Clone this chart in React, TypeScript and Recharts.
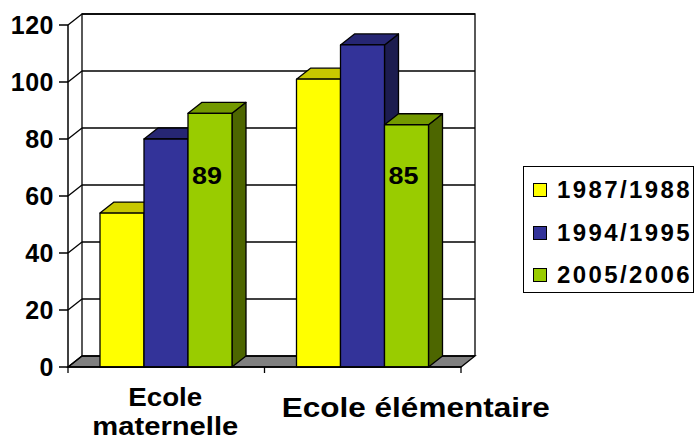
import React from "react"
import { BarChart, Bar, XAxis, YAxis, CartesianGrid, LabelList, Legend } from "recharts"

// depth of the fake 3D extrusion
const DX = 14
const DY = 11
const FONT = '"Liberation Sans", Arial, sans-serif'

const categories = ["Ecole maternelle", "Ecole élémentaire"]
const categoryLines = [["Ecole", "maternelle"], ["Ecole élémentaire"]]
const seriesNames = ["1987/1988", "1994/1995", "2005/2006"]
const values1987 = [54, 101]
const values1994 = [80, 113]
const values2005 = [89, 85]
const yTicks = [0, 20, 40, 60, 80, 100, 120]

const palette = [
  { front: "#ffff00", top: "#c8c800", side: "#8c8c00" },
  { front: "#333399", top: "#262673", side: "#1c1c4f" },
  { front: "#99cc00", top: "#739900", side: "#4d6600" },
]

const data = categories.map((name, i) => ({
  name,
  s0: values1987[i],
  s1: values1994[i],
  s2: values2005[i],
}))

const Bar3D = (props: any) => {
  const { x, y, width: w, height: h, colors } = props
  if (h == null || w == null) return null
  return (
    <g stroke="#000" strokeWidth={1.3} strokeLinejoin="round">
      <polygon
        points={`${x + w},${y} ${x + w + DX},${y - DY} ${x + w + DX},${y + h - DY} ${x + w},${y + h}`}
        fill={colors.side}
      />
      <polygon
        points={`${x},${y} ${x + DX},${y - DY} ${x + w + DX},${y - DY} ${x + w},${y}`}
        fill={colors.top}
      />
      <rect x={x} y={y} width={w} height={h} fill={colors.front} />
    </g>
  )
}

// back wall, floor and the slanted gridlines are hung off the horizontal grid
const gridLine = (p: any) => {
  const { x1, y1, x2, index, x, y, width, height } = p
  const bottom = y + height
  return (
    <g key={`grid-${index}`} stroke="#000" strokeWidth={1.3}>
      {index === 0 && (
        <>
          <polygon
            points={`${x},${bottom} ${x + DX},${bottom - DY} ${x + width + DX},${bottom - DY} ${x + width},${bottom}`}
            fill="#808080"
          />
          <polyline
            points={`${x + DX},${bottom - DY} ${x + DX},${y - DY} ${x + width + DX},${y - DY} ${x + width + DX},${bottom - DY}`}
            fill="none"
          />
          {[0, 0.5, 1].map((f) => (
            <line key={f} x1={x + width * f} y1={bottom} x2={x + width * f} y2={bottom + 6} />
          ))}
        </>
      )}
      <line x1={x1 + DX} y1={y1 - DY} x2={x2 + DX} y2={y1 - DY} />
      <line x1={x1} y1={y1} x2={x1 + DX} y2={y1 - DY} />
    </g>
  )
}

const YTick = (props: any) => {
  const { x, y, payload } = props
  return (
    <text x={x} y={y} dy="0.355em" textAnchor="end" fontFamily={FONT} fontWeight="bold" fontSize={25} letterSpacing={0.5} fill="#000">
      {payload.value}
    </text>
  )
}

const XTick = (props: any) => {
  const { x, y, index } = props
  const lines = categoryLines[index] || []
  if (lines.length > 1) {
    return (
      <g fontFamily={FONT} fontWeight="bold" fontSize={25} fill="#000" textAnchor="middle">
        <text x={x - 1} y={y + 39} textLength={74} lengthAdjust="spacingAndGlyphs">{lines[0]}</text>
        <text x={x - 1} y={y + 68} textLength={146} lengthAdjust="spacingAndGlyphs">{lines[1]}</text>
      </g>
    )
  }
  return (
    <text
      x={x + 53}
      y={y + 50}
      textAnchor="middle"
      fontFamily={FONT}
      fontWeight="bold"
      fontSize={28}
      fill="#000"
      textLength={268}
      lengthAdjust="spacingAndGlyphs"
    >
      {lines[0]}
    </text>
  )
}

const ValueLabel = (props: any) => {
  const { x, y, width, height, value } = props
  return (
    <text
      x={x + width / 2 - 3}
      y={y + height - 192}
      dy="0.355em"
      textAnchor="middle"
      fontFamily={FONT}
      fontWeight="bold"
      fontSize={24}
      fill="#000"
      textLength={30}
      lengthAdjust="spacingAndGlyphs"
    >
      {value}
    </text>
  )
}

const renderLegend = () => (
  <div
    style={{
      width: 171,
      height: 127,
      border: "1.5px solid #000",
      boxSizing: "border-box",
      paddingTop: 2,
      background: "#fff",
      fontFamily: FONT,
    }}
  >
    {seriesNames.map((name, i) => (
      <div key={name} style={{ height: 42.5, display: "flex", alignItems: "center", paddingLeft: 9 }}>
        <span
          style={{
            width: 14,
            height: 14,
            boxSizing: "border-box",
            border: "1.5px solid #000",
            background: palette[i].front,
            marginRight: 10,
          }}
        />
        <span style={{ fontWeight: "bold", fontSize: 24, letterSpacing: 2.4, color: "#000", whiteSpace: "nowrap" }}>
          {name}
        </span>
      </div>
    ))}
  </div>
)

export default function App() {
  return (
    <div style={{ position: "absolute", left: 0, top: 0, width: 694, height: 441, background: "#fff" }}>
      <BarChart
        width={694}
        height={441}
        data={data}
        margin={{ top: 25, right: 233, bottom: 0, left: 0 }}
        barSize={44}
        barGap={0}
      >
        <CartesianGrid vertical={false} horizontal={gridLine} />
        <XAxis
          dataKey="name"
          interval={0}
          height={74}
          tickSize={0}
          tickMargin={0}
          tickLine={false}
          axisLine={{ stroke: "#000", strokeWidth: 1.5 }}
          tick={XTick}
        />
        <YAxis
          domain={[0, 120]}
          ticks={yTicks}
          interval={0}
          width={68}
          tickSize={9}
          tickMargin={5}
          axisLine={{ stroke: "#000", strokeWidth: 1.5 }}
          tickLine={{ stroke: "#000", strokeWidth: 1.5 }}
          tick={YTick}
        />
        <Legend
          layout="vertical"
          align="center"
          verticalAlign="middle"
          wrapperStyle={{ left: 523, top: 166, width: 171, height: 127 }}
          content={renderLegend}
        />
        <Bar dataKey="s0" name={seriesNames[0]} fill={palette[0].front} isAnimationActive={false}
          shape={(p: any) => <Bar3D {...p} colors={palette[0]} />} />
        <Bar dataKey="s1" name={seriesNames[1]} fill={palette[1].front} isAnimationActive={false}
          shape={(p: any) => <Bar3D {...p} colors={palette[1]} />} />
        <Bar dataKey="s2" name={seriesNames[2]} fill={palette[2].front} isAnimationActive={false}
          shape={(p: any) => <Bar3D {...p} colors={palette[2]} />}>
          <LabelList dataKey="s2" content={ValueLabel} />
        </Bar>
      </BarChart>
    </div>
  )
}
